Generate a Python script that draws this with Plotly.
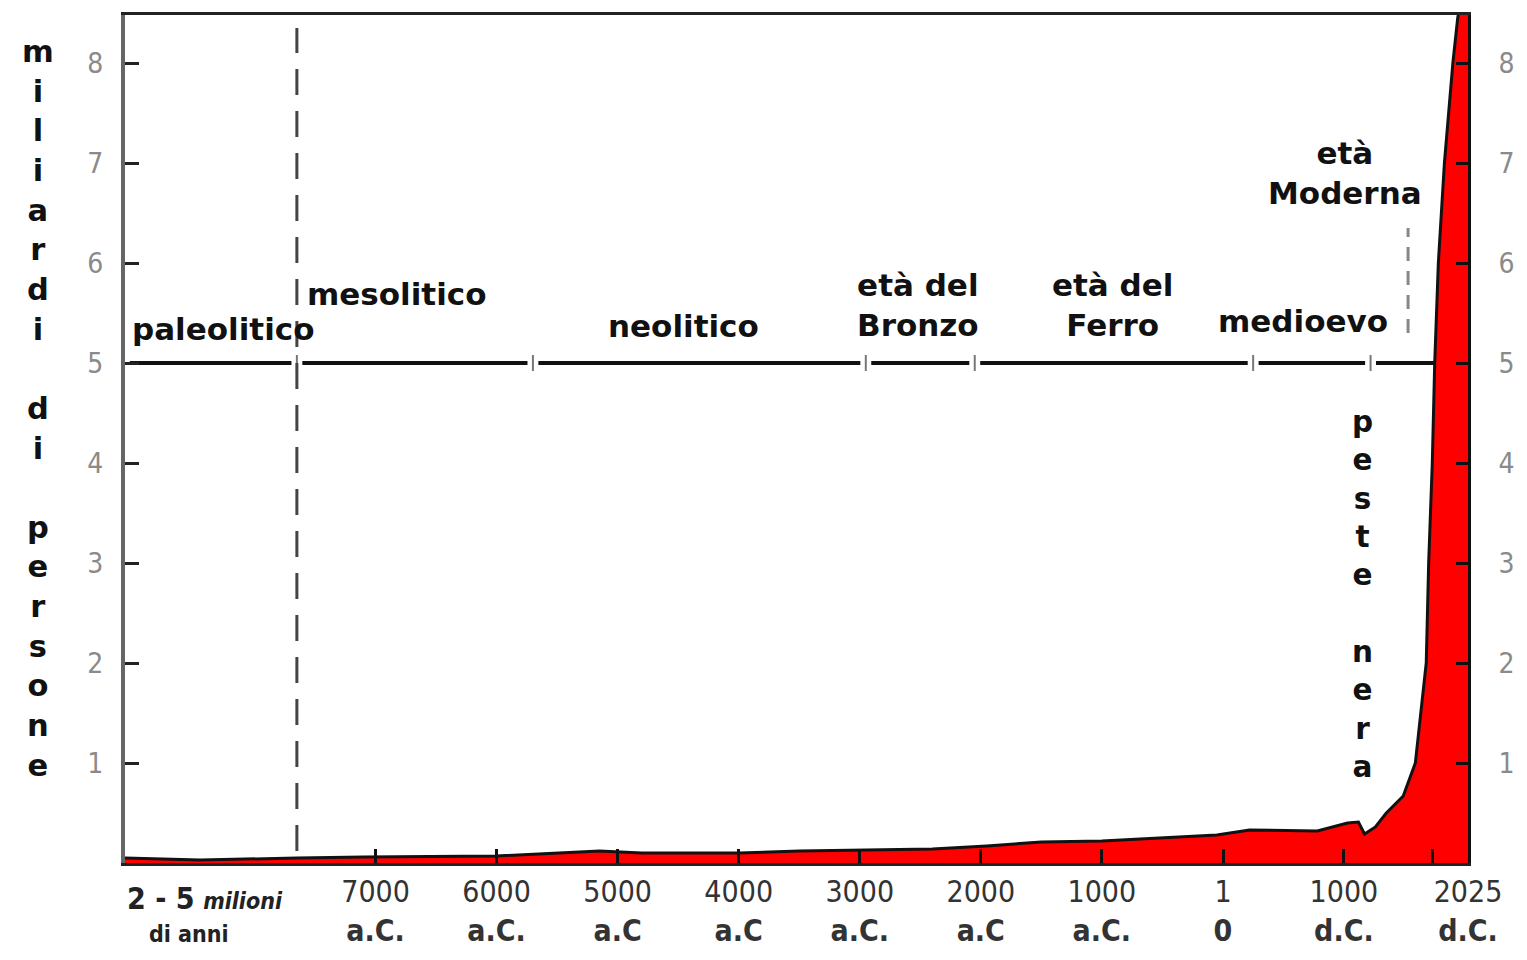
import plotly.graph_objects as go

# ---- data (x = position on the chart's time axis, in years; negative = a.C.) ----
years = [-9070, -8450, -7650, -7100, -6000, -5500, -5150, -4800, -4000, -3500,
         -2900, -2400, -1950, -1500, -1000, -500, -50, 220, 780, 1030,
         1120, 1170, 1260, 1350, 1490, 1590, 1680, 1700, 1730, 1750,
         1780, 1830, 1900, 1940, 2025]
popolazione = [0.05, 0.03, 0.05, 0.06, 0.07, 0.10, 0.12, 0.10, 0.10, 0.12,
               0.13, 0.14, 0.17, 0.21, 0.22, 0.25, 0.28, 0.33, 0.32, 0.40,
               0.41, 0.29, 0.36, 0.50, 0.67, 1.0, 2.0, 3.0, 4.0, 5.0,
               6.0, 7.0, 8.0, 8.45, 9.0]

tick_years = [-7000, -6000, -5000, -4000, -3000, -2000, -1000, 1, 1000, 1730, 2025]
tick_text = ["7000", "6000", "5000", "4000", "3000", "2000", "1000", "1", "1000", "", "2025"]
tick_sub = ["a.C.", "a.C.", "a.C", "a.C", "a.C.", "a.C", "a.C.", "0", "d.C.", "", "d.C."]
primo_anno = -8410
primo_riga1 = "<b>2 - 5</b> <b><i><span style='font-size:23px'>milioni</span></i></b>"
primo_riga2 = "<b>di anni</b>"

# era boundaries along the 5-billion line
era_confini = [-7650, -5700, -2950, -2050, 250, 1220]
linea_livello = 5
linea_inizio = -9030
linea_fine = 1748
mesolitico_inizio = -7650
moderna_inizio = 1530

ere = [
    ("paleolitico", -9030, 5.34, "left"),
    ("mesolitico", -7583, 5.69, "left"),
    ("neolitico", -4460, 5.37, "center"),
    ("età del<br>Bronzo", -2519, 5.58, "center"),
    ("età del<br>Ferro", -908, 5.58, "center"),
    ("medioevo", 661, 5.42, "center"),
    ("età<br>Moderna", 1008, 6.90, "center"),
]
peste_x, peste_y = 1157, 2.69

y_ticks = [1, 2, 3, 4, 5, 6, 7, 8]
x_range = [-9070, 2025]
y_range = [0, 8.48]

fig = go.Figure()

# population area
fig.add_trace(go.Scatter(x=years, y=popolazione, mode="lines", fill="tozeroy",
                         fillcolor="#ff0000", line=dict(color="#111", width=3),
                         hoverinfo="skip", showlegend=False))

# 5-billion line split at era boundaries
gap = 45
seg_x, seg_y = [], []
starts = [linea_inizio] + [b + gap for b in era_confini]
ends = [b - gap for b in era_confini] + [linea_fine]
for s, e in zip(starts, ends):
    seg_x += [s, e, None]
    seg_y += [linea_livello, linea_livello, None]
fig.add_trace(go.Scatter(x=seg_x, y=seg_y, mode="lines",
                         line=dict(color="#111", width=4), hoverinfo="skip", showlegend=False))
mark_x, mark_y = [], []
for b in era_confini:
    mark_x += [b, b, None]
    mark_y += [linea_livello - 0.08, linea_livello + 0.08, None]
fig.add_trace(go.Scatter(x=mark_x, y=mark_y, mode="lines",
                         line=dict(color="#777", width=2), hoverinfo="skip", showlegend=False))

# dashed separators
fig.add_trace(go.Scatter(x=[mesolitico_inizio, mesolitico_inizio], y=[0.12, 8.35], mode="lines",
                         line=dict(color="#444", width=3, dash="26px,16px"),
                         hoverinfo="skip", showlegend=False))
fig.add_trace(go.Scatter(x=[moderna_inizio, moderna_inizio], y=[5.3, 6.35], mode="lines",
                         line=dict(color="#888", width=3, dash="14px,10px"),
                         hoverinfo="skip", showlegend=False))

# invisible trace for the right axis
fig.add_trace(go.Scatter(x=[x_range[0]], y=[0], yaxis="y2", mode="markers",
                         marker=dict(opacity=0), hoverinfo="skip", showlegend=False))

label_font = dict(family="DejaVu Sans, Verdana, sans-serif", size=31, color="#111")
for testo, xx, yy, anc in ere:
    fig.add_annotation(x=xx, y=yy, text="<b>" + testo + "</b>", showarrow=False,
                       xanchor=anc, yanchor="middle", font=label_font, align="center")

fig.add_annotation(x=peste_x, y=peste_y, text="<b>" + "<br>".join(list("peste nera")) + "</b>",
                   showarrow=False, xanchor="center", yanchor="middle",
                   font=dict(family="DejaVu Sans, Verdana, sans-serif", size=29.5, color="#111"))

# stacked y-axis title
fig.add_annotation(xref="paper", yref="paper", x=-0.0648, y=0.536,
                   text="<b>" + "<br>".join(list("miliardi di persone")) + "</b>",
                   showarrow=False, xanchor="center", yanchor="middle",
                   font=dict(family="DejaVu Sans, Verdana, sans-serif", size=30.5, color="#111"))

# first x label (two separate lines)
fig.add_annotation(x=primo_anno, xref="x", y=0, yref="paper", yanchor="middle", yshift=-35,
                   text=primo_riga1, showarrow=False,
                   font=dict(family="DejaVu Sans Condensed, DejaVu Sans, sans-serif", size=30, color="#222"))
fig.add_annotation(x=primo_anno - 130, xref="x", y=0, yref="paper", yanchor="middle", yshift=-71,
                   text=primo_riga2, showarrow=False,
                   font=dict(family="DejaVu Sans Condensed, DejaVu Sans, sans-serif", size=23, color="#222"))

fig.update_layout(
    width=1511, height=944,
    margin=dict(l=117, r=51, t=4, b=86),
    paper_bgcolor="white", plot_bgcolor="white",
    showlegend=False,
    xaxis=dict(range=x_range, showgrid=False, zeroline=False,
               showline=True, mirror=True, linecolor="#222", linewidth=3,
               ticks="inside", ticklen=14, tickwidth=3, tickcolor="#111",
               tickvals=tick_years,
               ticktext=[(t + "<br><b>" + s + "</b>") if t else "" for t, s in zip(tick_text, tick_sub)],
               tickfont=dict(family="DejaVu Sans Condensed, DejaVu Sans, sans-serif", size=30, color="#333"),
               tickangle=0),
    yaxis=dict(range=y_range, showgrid=False, zeroline=False,
               showline=True, linecolor="#666", linewidth=4,
               ticks="inside", ticklen=14, tickwidth=3, tickcolor="#222",
               tickvals=y_ticks, ticklabelstandoff=12,
               tickfont=dict(family="DejaVu Sans Condensed, DejaVu Sans, sans-serif", size=28, color="#8a8a8a")),
    yaxis2=dict(range=y_range, overlaying="y", side="right", showgrid=False, zeroline=False,
                showline=True, linecolor="#111", linewidth=3,
                ticks="inside", ticklen=12, tickwidth=3, tickcolor="#111",
                tickvals=y_ticks, ticklabelstandoff=22,
                tickfont=dict(family="DejaVu Sans Condensed, DejaVu Sans, sans-serif", size=28, color="#8a8a8a")),
)

fig.write_html("out.html")
